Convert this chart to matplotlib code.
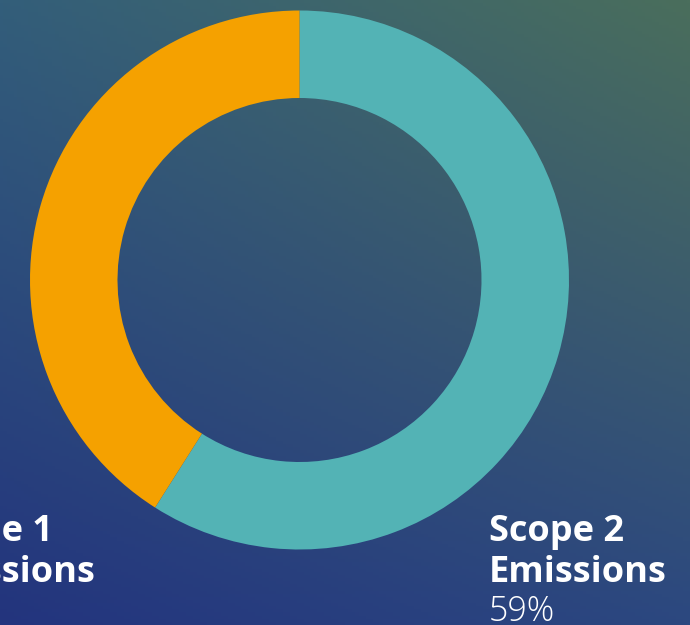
import numpy as np
import matplotlib
matplotlib.use("Agg")
import matplotlib.pyplot as plt

# Dados do gráfico
label_top = ["Scope 2", "Scope 1"]
label_bottom = ["Emissions", "Emissions"]
values = [59, 41]
pct_labels = ["59%", "41%"]
colors = ["#53b3b5", "#f5a100"]

W, H = 690, 625
fig = plt.figure(figsize=(W / 100, H / 100), dpi=100)
ax = fig.add_axes([0, 0, 1, 1])

# Fundo em degradê (cantos: sup-esq, sup-dir, inf-esq, inf-dir)
c_tl = np.array([0x33, 0x5e, 0x7a]) / 255
c_tr = np.array([0x4a, 0x6e, 0x5c]) / 255
c_bl = np.array([0x23, 0x34, 0x7e]) / 255
c_br = np.array([0x2c, 0x48, 0x80]) / 255
u = np.linspace(0, 1, 200)[None, :, None]
v = np.linspace(0, 1, 200)[:, None, None]
grad = (1 - v) * ((1 - u) * c_tl + u * c_tr) + v * ((1 - u) * c_bl + u * c_br)
ax.imshow(grad, extent=(0, W, 0, H), origin="upper", zorder=0, aspect="auto")

cx, cy, r_out, r_in = 299.5, H - 280, 269.5, 182
ax.pie(values, colors=colors, startangle=90, counterclock=False,
       center=(cx, cy), radius=r_out,
       wedgeprops=dict(width=r_out - r_in, linewidth=0))

ax.set_xlim(0, W)
ax.set_ylim(0, H)
ax.set_aspect("auto")
ax.axis("off")

fam = ["Open Sans", "Lato", "DejaVu Sans"]
for x0, top, bot, pct in zip([489, -82], label_top, label_bottom, pct_labels):
    ax.text(x0, H - 541, top, color="white", fontsize=26, fontweight="bold",
            family=fam, ha="left", va="baseline")
    ax.text(x0, H - 582, bot, color="white", fontsize=26, fontweight="bold",
            family=fam, ha="left", va="baseline")
    ax.text(x0, H - 621, pct, color="white", fontsize=24.5, fontweight="light",
            family=fam, ha="left", va="baseline")

fig.savefig("out.png", dpi=100)
